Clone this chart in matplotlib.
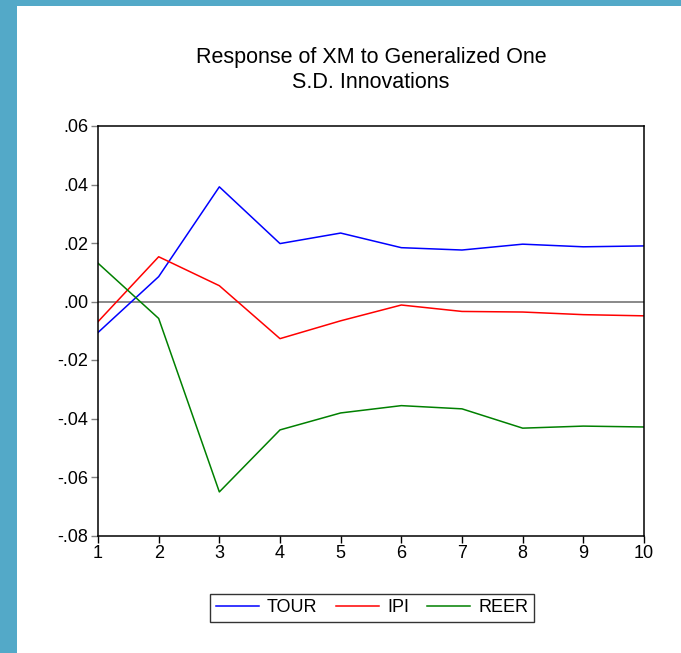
import numpy as np
import matplotlib
matplotlib.use("Agg")
import matplotlib.pyplot as plt
from matplotlib.patches import Rectangle

# Response of XM to generalized one S.D. innovations
periods = [1, 2, 3, 4, 5, 6, 7, 8, 9, 10]
tour = [-0.0106, 0.0085, 0.0392, 0.0198, 0.0234, 0.0184, 0.0176, 0.0196, 0.0187, 0.0190]
ipi = [-0.0069, 0.0153, 0.0054, -0.0127, -0.0066, -0.0012, -0.0034, -0.0036, -0.0045, -0.0049]
reer = [0.0131, -0.0058, -0.0651, -0.0439, -0.0381, -0.0356, -0.0367, -0.0433, -0.0426, -0.0429]

y_ticks = [-0.08, -0.06, -0.04, -0.02, 0.00, 0.02, 0.04, 0.06]
y_labels = ['-.08', '-.06', '-.04', '-.02', '.00', '.02', '.04', '.06']

plt.rcParams['font.family'] = ['Liberation Sans', 'DejaVu Sans']

fig = plt.figure(figsize=(6.81, 6.53), dpi=100)

# blue frame at left and top of the picture
fig.patches.append(Rectangle((0, 0), 16.5 / 681, 1, transform=fig.transFigure,
                             facecolor='#53A9C8', edgecolor='none', zorder=0))
fig.patches.append(Rectangle((0, 1 - 6 / 653), 1, 6 / 653, transform=fig.transFigure,
                             facecolor='#53A9C8', edgecolor='none', zorder=0))

ax = fig.add_axes([98 / 681, 1 - 535.5 / 653, (644 - 98) / 681, (535.5 - 126) / 653])

ax.axhline(0, color='#808080', lw=1.3, zorder=1)
ax.plot(periods, tour, color='#0000FF', lw=1.1, label='TOUR')
ax.plot(periods, ipi, color='#FF0000', lw=1.1, label='IPI')
ax.plot(periods, reer, color='#008000', lw=1.1, label='REER')

ax.set_xlim(1, 10)
ax.set_ylim(-0.08, 0.06)
ax.set_xticks(periods)
ax.set_xticklabels([str(p) for p in periods])
ax.set_yticks(y_ticks)
ax.set_yticklabels(y_labels)
ax.tick_params(axis='both', direction='out', length=5, width=1, color='#808080',
               labelsize=13, pad=2)
ax.tick_params(axis='x', color='black')
for s in ax.spines.values():
    s.set_color('black')
    s.set_linewidth(1.1)

fig.text(371 / 681, 1 - 70 / 653, 'Response of XM to Generalized One\nS.D. Innovations',
         ha='center', va='center', fontsize=15.5, linespacing=1.3)

leg = fig.legend(loc='center', bbox_to_anchor=(372 / 681, 1 - 608 / 653), ncol=3,
                 fontsize=13, frameon=True, fancybox=False, handlelength=2.4,
                 columnspacing=1.0, handletextpad=0.45, borderpad=0.3)
leg.get_frame().set_edgecolor('black')
leg.get_frame().set_linewidth(1)

fig.savefig('out.png', dpi=100)
